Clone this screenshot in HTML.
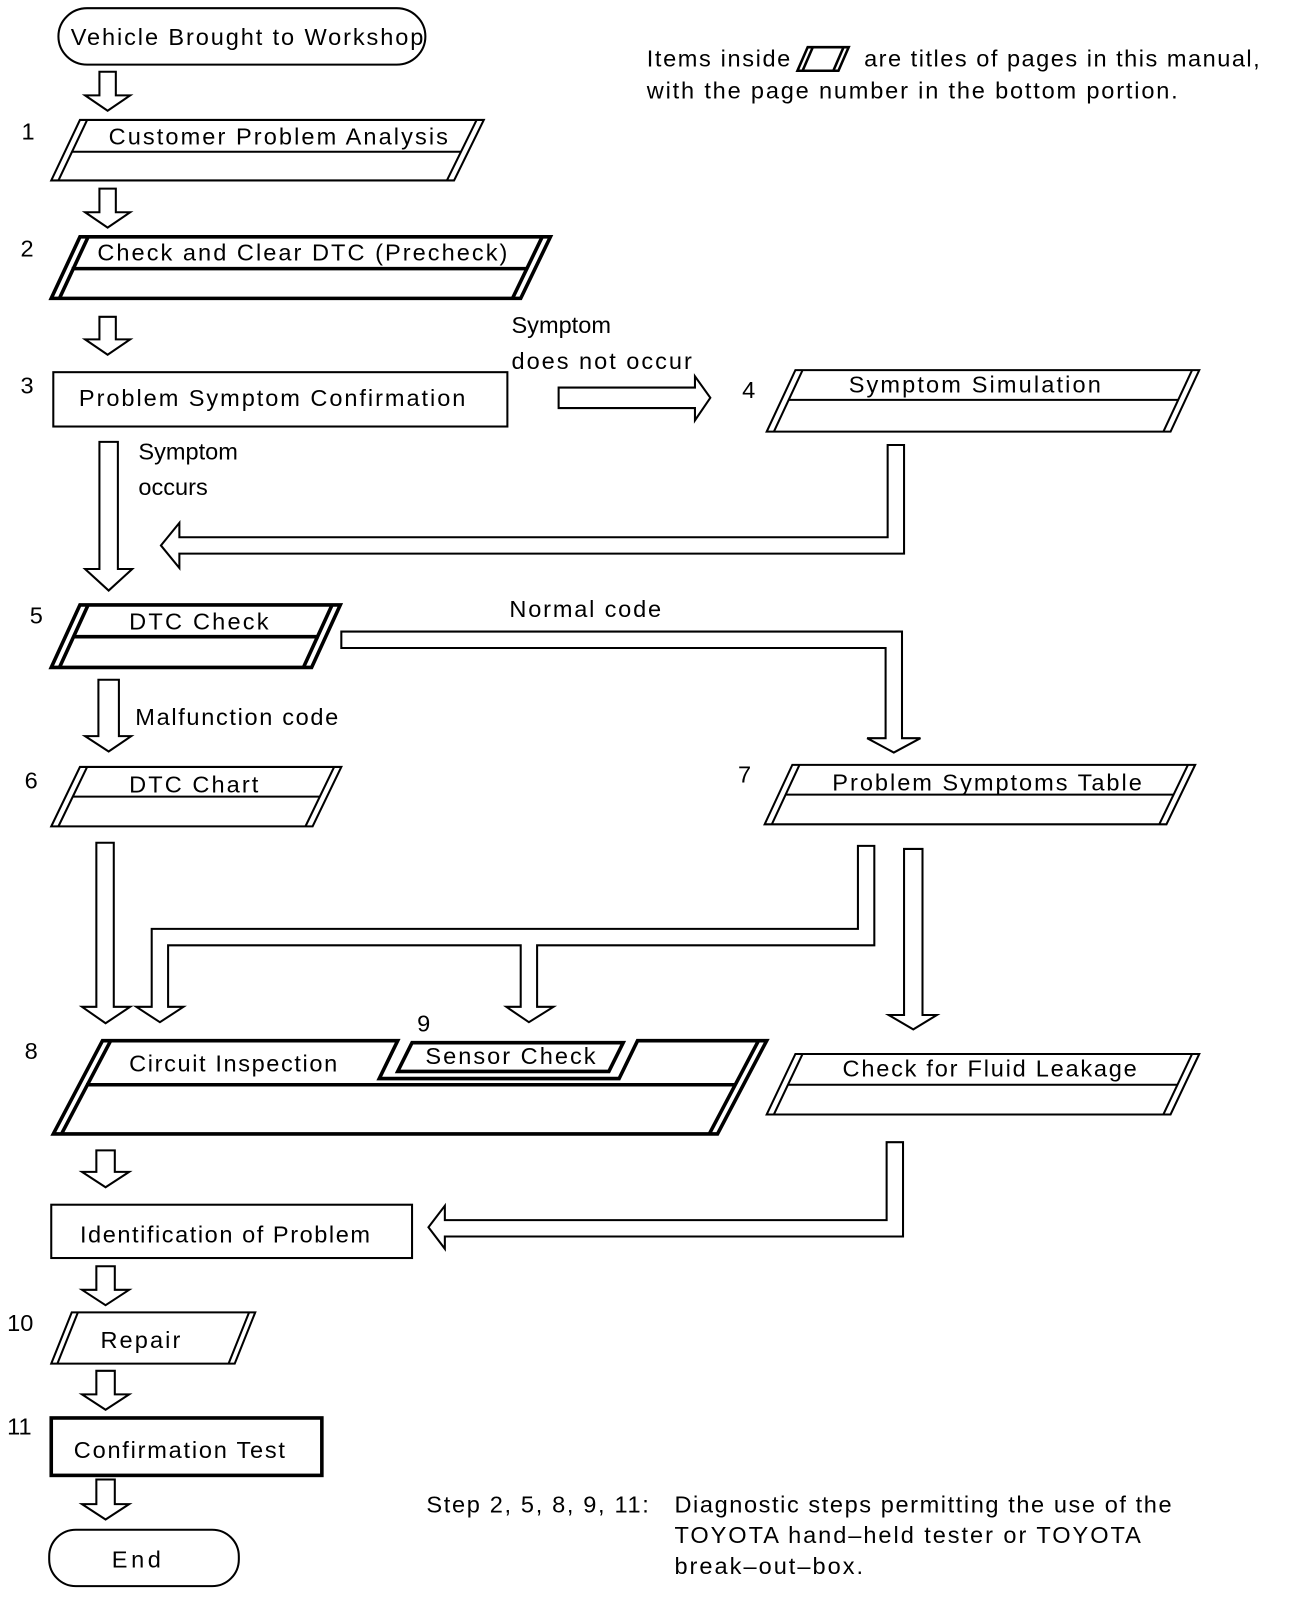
<!DOCTYPE html>
<html><head><meta charset="utf-8"><style>
html,body{margin:0;padding:0;background:#fff;}
svg{display:block;}
text{font-family:"Liberation Sans",Arial,sans-serif;font-size:23px;fill:#000;}
</style></head><body>
<svg width="1312" height="1622" viewBox="0 0 1280 1582" preserveAspectRatio="none" xmlns="http://www.w3.org/2000/svg">
<g fill="#fff" stroke="#000" stroke-width="2" stroke-linejoin="miter">
<!-- Vehicle -->
<rect x="57" y="8" width="358" height="55" rx="28"/>
<!-- arrows down (small) -->
<polygon points="97,70 113,70 113,93 127,93 105,108 83,93 97,93"/>
<polygon points="97,184 113,184 113,207 127,207 105,222 83,207 97,207"/>
<polygon points="97,309 113,309 113,331 127,331 105,346 83,331 97,331"/>
<!-- Para1 -->
<polygon points="78,117 472,117 443,176 50,176"/>
<line x1="85" y1="117" x2="57" y2="176"/><line x1="465" y1="117" x2="436" y2="176"/>
<line x1="70" y1="148" x2="450" y2="148"/>
<!-- Para2 thick -->
<g stroke-width="3.5">
<polygon points="78,231 537,231 508,291 50,291"/>
<line x1="86" y1="231" x2="58" y2="291"/><line x1="529" y1="231" x2="500" y2="291"/>
<line x1="70" y1="262" x2="515" y2="262"/>
</g>
<!-- Rect3 -->
<rect x="52" y="363" width="443" height="53"/>
<!-- right arrow -->
<polygon points="545,378 678,378 678,367 693,388 678,410 678,398 545,398"/>
<!-- Para4 -->
<polygon points="776,361 1170,361 1142,421 748,421"/>
<line x1="783" y1="361" x2="755" y2="421"/><line x1="1163" y1="361" x2="1135" y2="421"/>
<line x1="769" y1="390" x2="1150" y2="390"/>
<!-- return arrow from 4 -->
<polygon points="866,434 882,434 882,540 175,540 175,554 157,532 175,510 175,524 866,524"/>
<!-- down arrow 3 -> 5 -->
<polygon points="97,431 115,431 115,555 129,555 106,576 83,555 97,555"/>
<!-- Para5 thick -->
<g stroke-width="3.5">
<polygon points="78,590 332,590 304,651 50,651"/>
<line x1="86" y1="590" x2="58" y2="651"/><line x1="324" y1="590" x2="296" y2="651"/>
<line x1="71" y1="621" x2="311" y2="621"/>
</g>
<!-- normal code arrow -->
<polygon points="333,616 880,616 880,720 898,720 872,734 846,720 864,720 864,632 333,632"/>
<!-- 5 -> 6 -->
<polygon points="96,663 116,663 116,718 128,718 106,733 83,718 96,718"/>
<!-- Para6 -->
<polygon points="78,748 333,748 305,806 50,806"/>
<line x1="85" y1="748" x2="57" y2="806"/><line x1="326" y1="748" x2="298" y2="806"/>
<line x1="71" y1="777" x2="312" y2="777"/>
<!-- Para7 -->
<polygon points="773,746 1166,746 1138,804 746,804"/>
<line x1="780" y1="746" x2="753" y2="804"/><line x1="1159" y1="746" x2="1131" y2="804"/>
<line x1="767" y1="775" x2="1145" y2="775"/>
<!-- 6 -> 8 -->
<polygon points="94,822 111,822 111,982 127,982 103,998 80,982 94,982"/>
<!-- 7 branch -->
<polygon points="837,825 853,825 853,922 524,922 524,982 540,982 516,997 494,982 508,982 508,922 164,922 164,982 179,982 156,997 133,982 148,982 148,906 837,906"/>
<!-- 7 -> fluid -->
<polygon points="882,828 900,828 900,990 914,990 891,1004 867,990 882,990"/>
<!-- Para8 -->
<g stroke-width="3.5">
<polygon points="100,1015 388,1015 370,1052 604,1052 622,1015 748,1015 700,1106 52,1106"/>
<line x1="108" y1="1015" x2="60" y2="1106"/><line x1="740" y1="1015" x2="692" y2="1106"/>
<line x1="84" y1="1058" x2="718" y2="1058"/>
<polygon points="402,1017 608,1017 594,1045 388,1045"/>
</g>
<!-- fluid -->
<polygon points="776,1028 1170,1028 1142,1087 748,1087"/>
<line x1="783" y1="1028" x2="755" y2="1087"/><line x1="1163" y1="1028" x2="1135" y2="1087"/>
<line x1="769" y1="1058" x2="1149" y2="1058"/>
<!-- 8 -> ID -->
<polygon points="94,1122 112,1122 112,1143 126,1143 103,1158 80,1143 94,1143"/>
<!-- ID rect -->
<rect x="50" y="1175" width="352" height="52"/>
<!-- return from fluid -->
<polygon points="865,1114 881,1114 881,1206 434,1206 434,1218 418,1197 434,1176 434,1190 865,1190"/>
<!-- ID -> repair -->
<polygon points="94,1235 112,1235 112,1258 126,1258 103,1273 80,1258 94,1258"/>
<!-- repair -->
<polygon points="70,1280 249,1280 229,1330 50,1330"/>
<line x1="76" y1="1280" x2="56" y2="1330"/><line x1="243" y1="1280" x2="223" y2="1330"/>
<!-- -> confirmation -->
<polygon points="94,1337 112,1337 112,1360 126,1360 103,1375 80,1360 94,1360"/>
<rect x="50" y="1383" width="264" height="56" stroke-width="3.5"/>
<polygon points="94,1443 112,1443 112,1467 126,1467 103,1482 80,1467 94,1467"/>
<rect x="48" y="1492" width="185" height="55" rx="26"/>
<!-- legend icon -->
<polygon points="788,46 828,46 818,69 778,69" stroke-width="2.5"/>
<line x1="793" y1="46" x2="783" y2="69" stroke-width="2.5"/><line x1="823" y1="46" x2="813" y2="69" stroke-width="2.5"/>
</g>
<g>
<text x="69" y="44" textLength="344">Vehicle Brought to Workshop</text>
<text x="21" y="136">1</text>
<text x="106" y="141" textLength="331">Customer Problem Analysis</text>
<text x="20" y="250">2</text>
<text x="95" y="254" textLength="400">Check and Clear DTC (Precheck)</text>
<text x="20" y="384">3</text>
<text x="77" y="396" textLength="377">Problem Symptom Confirmation</text>
<text x="499" y="325">Symptom</text>
<text x="499" y="360" textLength="176">does not occur</text>
<text x="724" y="388">4</text>
<text x="828" y="383" textLength="246">Symptom Simulation</text>
<text x="135" y="448">Symptom</text>
<text x="135" y="483">occurs</text>
<text x="29" y="608">5</text>
<text x="126" y="614" textLength="136">DTC Check</text>
<text x="497" y="602" textLength="148">Normal code</text>
<text x="132" y="707" textLength="198">Malfunction code</text>
<text x="24" y="769">6</text>
<text x="126" y="773" textLength="126">DTC Chart</text>
<text x="720" y="763">7</text>
<text x="812" y="771" textLength="302">Problem Symptoms Table</text>
<text x="407" y="1006">9</text>
<text x="24" y="1033">8</text>
<text x="126" y="1045" textLength="203">Circuit Inspection</text>
<text x="415" y="1038" textLength="166">Sensor Check</text>
<text x="822" y="1050" textLength="287">Check for Fluid Leakage</text>
<text x="78" y="1212" textLength="283">Identification of Problem</text>
<text x="7" y="1298">10</text>
<text x="98" y="1315" textLength="78">Repair</text>
<text x="7" y="1399">11</text>
<text x="72" y="1422" textLength="206">Confirmation Test</text>
<text x="109" y="1529" textLength="48">End</text>
<text x="631" y="65" textLength="140">Items inside</text>
<text x="843" y="65" textLength="386">are titles of pages in this manual,</text>
<text x="631" y="96" textLength="518">with the page number in the bottom portion.</text>
<text x="416" y="1475" textLength="217">Step 2, 5, 8, 9, 11:</text>
<text x="658" y="1475" textLength="485">Diagnostic steps permitting the use of the</text>
<text x="658" y="1505" textLength="455">TOYOTA hand–held tester or TOYOTA</text>
<text x="658" y="1535" textLength="184">break–out–box.</text>
</g>
</svg>
</body></html>
